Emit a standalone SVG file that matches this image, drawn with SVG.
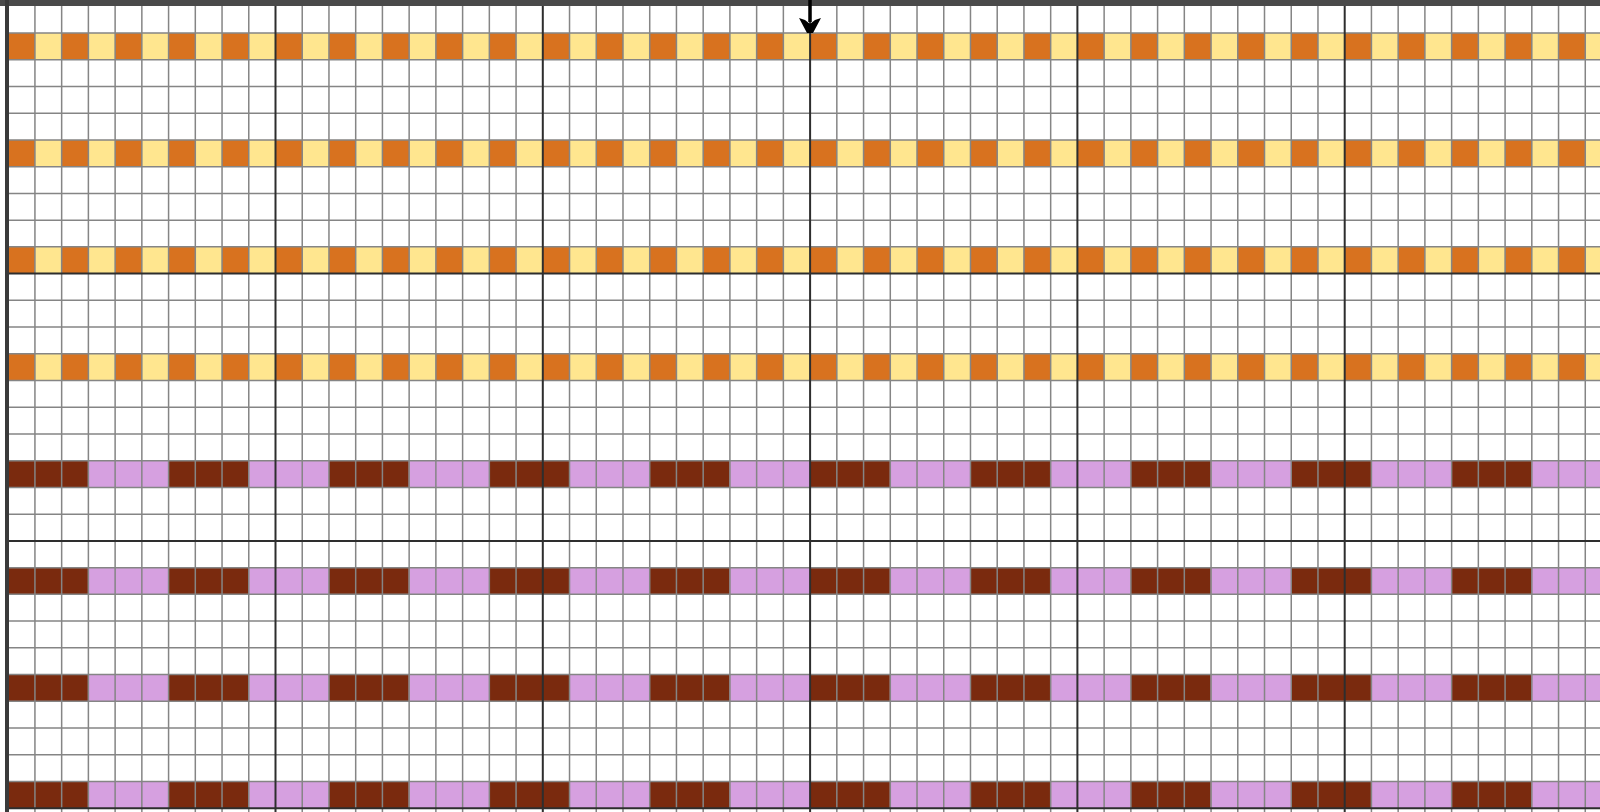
<svg xmlns="http://www.w3.org/2000/svg" width="1600" height="812" viewBox="0 0 1600 812">
<defs>
<style>
.minor{stroke:#858585;stroke-width:1.5;fill:none}
.major{stroke:#2e2e2e;stroke-width:2;fill:none}
</style>
<pattern id="oy" patternUnits="userSpaceOnUse" x="8.2" y="0" width="53.46" height="812">
<rect x="0" y="0" width="26.73" height="812" fill="#D8721F"/>
<rect x="26.73" y="0" width="26.73" height="812" fill="#FFE68F"/>
</pattern>
<pattern id="bp" patternUnits="userSpaceOnUse" x="8.2" y="0" width="160.38" height="812">
<rect x="0" y="0" width="80.19" height="812" fill="#7A2A0E"/>
<rect x="80.19" y="0" width="80.19" height="812" fill="#D6A0E0"/>
</pattern>
</defs>
<rect width="1600" height="812" fill="#ffffff"/>
<g id="rows-orange">
<rect x="8.2" y="33.03" width="1592" height="26.73" fill="url(#oy)"/>
<rect x="8.2" y="139.95" width="1592" height="26.73" fill="url(#oy)"/>
<rect x="8.2" y="246.87" width="1592" height="26.73" fill="url(#oy)"/>
<rect x="8.2" y="353.79" width="1592" height="26.73" fill="url(#oy)"/>
</g>
<g id="rows-brown">
<rect x="8.2" y="460.71" width="1592" height="26.73" fill="url(#bp)"/>
<rect x="8.2" y="567.63" width="1592" height="26.73" fill="url(#bp)"/>
<rect x="8.2" y="674.55" width="1592" height="26.73" fill="url(#bp)"/>
<rect x="8.2" y="781.47" width="1592" height="26.73" fill="url(#bp)"/>
</g>
<g id="grid">
<path class="minor" d="M34.93 6V812M61.66 6V812M88.39 6V812M115.12 6V812M141.85 6V812M168.58 6V812M195.31 6V812M222.04 6V812M248.77 6V812M302.23 6V812M328.96 6V812M355.69 6V812M382.42 6V812M409.15 6V812M435.88 6V812M462.61 6V812M489.34 6V812M516.07 6V812M569.53 6V812M596.26 6V812M622.99 6V812M649.72 6V812M676.45 6V812M703.18 6V812M729.91 6V812M756.64 6V812M783.37 6V812M836.83 6V812M863.56 6V812M890.29 6V812M917.02 6V812M943.75 6V812M970.48 6V812M997.21 6V812M1023.94 6V812M1050.67 6V812M1104.13 6V812M1130.86 6V812M1157.59 6V812M1184.32 6V812M1211.05 6V812M1237.78 6V812M1264.51 6V812M1291.24 6V812M1317.97 6V812M1371.43 6V812M1398.16 6V812M1424.89 6V812M1451.62 6V812M1478.35 6V812M1505.08 6V812M1531.81 6V812M1558.54 6V812M1585.27 6V812"/>
<path class="minor" d="M8 33.03H1600M8 59.76H1600M8 86.49H1600M8 113.22H1600M8 139.95H1600M8 166.68H1600M8 193.41H1600M8 220.14H1600M8 246.87H1600M8 300.33H1600M8 327.06H1600M8 353.79H1600M8 380.52H1600M8 407.25H1600M8 433.98H1600M8 460.71H1600M8 487.44H1600M8 514.17H1600M8 567.63H1600M8 594.36H1600M8 621.09H1600M8 647.82H1600M8 674.55H1600M8 701.28H1600M8 728.01H1600M8 754.74H1600M8 781.47H1600"/>
<path class="major" d="M275.5 6V812M542.8 6V812M810.1 6V812M1077.4 6V812M1344.7 6V812M8 273.6H1600M8 540.9H1600M8 808.2H1600"/>
</g>
<g id="border">
<rect x="0" y="0" width="1600" height="6" fill="#4a4a4a"/>
<rect x="5" y="0" width="4" height="812" fill="#3a3a3a"/>
</g>
<g id="arrow">
<path d="M810 0V22" stroke="#000" stroke-width="3.5"/>
<polygon points="799,18 805,20 810,24 815,20 821,18 813,33 807,33" fill="#000"/>
</g>
</svg>
